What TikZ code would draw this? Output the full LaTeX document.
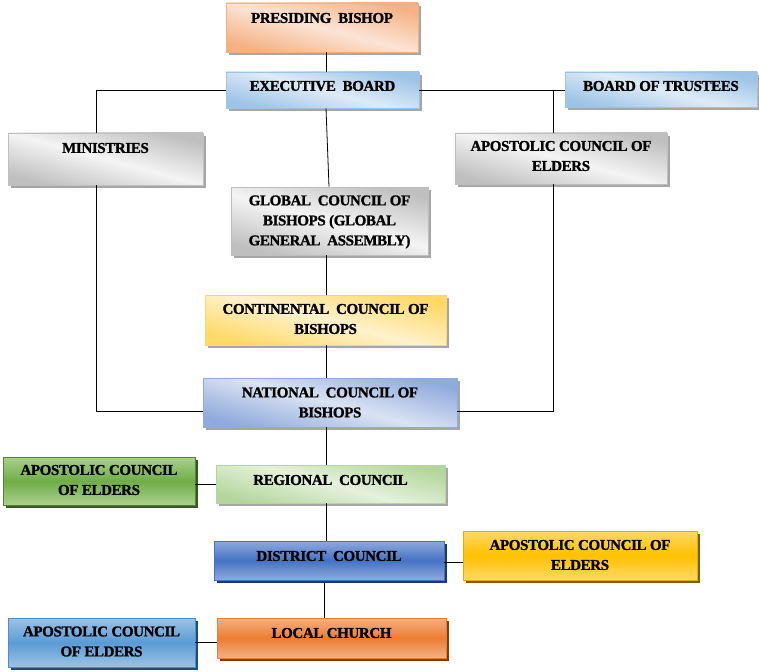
\documentclass[tikz,border=0pt]{standalone}
\usepackage{fontspec}
\setmainfont{Liberation Serif}[BoldFeatures={FakeBold=1.2, LetterSpace=-2.5}]
\usetikzlibrary{shadows}
\definecolor{orD}{HTML}{F4B183}\definecolor{orL}{HTML}{FCE4D6}
\definecolor{blD}{HTML}{9DC3E6}\definecolor{blL}{HTML}{DEEBF7}
\definecolor{grD}{HTML}{C8C8C8}\definecolor{grL}{HTML}{F4F4F4}\definecolor{grB}{HTML}{BFBFBF}
\definecolor{yeD}{HTML}{FFD966}\definecolor{yeL}{HTML}{FFF2CC}
\definecolor{naD}{HTML}{8FAADC}\definecolor{naL}{HTML}{DAE3F3}
\definecolor{rgD}{HTML}{B4D69C}\definecolor{rgL}{HTML}{E5F1DC}
\definecolor{gnM}{HTML}{70AD47}\definecolor{gnE}{HTML}{A9D18E}\definecolor{gnB}{HTML}{548235}\definecolor{gnS}{HTML}{385723}
\definecolor{dsM}{HTML}{4472C4}\definecolor{dsE}{HTML}{8FAADC}\definecolor{dsS}{HTML}{203864}
\definecolor{goM}{HTML}{FFC000}\definecolor{goE}{HTML}{FFD966}\definecolor{goB}{HTML}{E6AC00}\definecolor{goS}{HTML}{7F6000}
\definecolor{bbM}{HTML}{5B9BD5}\definecolor{bbE}{HTML}{9DC3E6}\definecolor{bbB}{HTML}{4F8CC9}\definecolor{bbS}{HTML}{1F4E79}
\definecolor{lcM}{HTML}{ED7D31}\definecolor{lcE}{HTML}{F4B183}\definecolor{lcS}{HTML}{843C0C}
\definecolor{shG}{HTML}{A6A6A6}
\tikzset{
  orgbox/.style={rectangle, inner sep=0pt, line width=0.8pt},
  lightbox/.style 2 args={orgbox, draw=#1, top color=#1, bottom color=#1, middle color=#2, shading angle=-15,
     drop shadow={shadow xshift=3pt, shadow yshift=-3pt, opacity=1, fill=shG}},
  solidbox/.style n args={4}{orgbox, draw=#3, top color=#2, bottom color=#2, middle color=#1,
     drop shadow={shadow xshift=3pt, shadow yshift=-3pt, opacity=1, fill=#4}},
  lbl/.style={font=\bfseries\fontsize{15}{20}\selectfont, align=center, inner sep=0pt},
  conn/.style={draw=black, line width=0.8pt}
}
\begin{document}
\begin{tikzpicture}[x=1pt,y=-1pt]
\useasboundingbox (0,0) rectangle (759,671);
% boxes
\node[lightbox={orD}{orL}, minimum width=192pt, minimum height=49pt] (pres) at (322,27.5) {};
\node[lbl] (tpres) at (322,18) {PRESIDING\ \ BISHOP};
\node[lightbox={blD}{blL}, minimum width=193pt, minimum height=36pt] (exec) at (322.5,90) {};
\node[lbl] (texec) at (322.5,86) {EXECUTIVE\ \ BOARD};
\node[lightbox={blD}{blL}, minimum width=192pt, minimum height=35pt] (bot) at (661,89.5) {};
\node[lbl] (tbot) at (661,86) {BOARD OF TRUSTEES};
\node[lightbox={grB}{grL}, minimum width=195pt, minimum height=52pt] (min) at (105.5,159) {};
\node[lbl] (tmin) at (105.5,148) {MINISTRIES};
\node[lightbox={grB}{grL}, minimum width=212pt, minimum height=51pt] (acg) at (561,158.5) {};
\node[lbl] (tacg) at (561,156) {APOSTOLIC COUNCIL OF\\ELDERS};
\node[lightbox={grB}{grL}, minimum width=197pt, minimum height=68pt] (glob) at (329.5,221) {};
\node[lbl] (tglob) at (329.5,222) {GLOBAL\ \ COUNCIL OF\\BISHOPS (GLOBAL\\GENERAL\ \ ASSEMBLY)};
\node[lightbox={yeD}{yeL}, minimum width=241pt, minimum height=50pt] (cont) at (325.5,320) {};
\node[lbl] (tcont) at (325.5,319) {CONTINENTAL\ \ COUNCIL OF\\BISHOPS};
\node[lightbox={naD}{naL}, minimum width=254pt, minimum height=49pt] (nat) at (330,402.5) {};
\node[lbl] (tnat) at (330,402.5) {NATIONAL\ \ COUNCIL OF\\BISHOPS};
\node[solidbox={gnM}{gnE}{gnB}{gnS}, minimum width=192pt, minimum height=48pt] (acgn) at (99,481) {};
\node[lbl] (tacgn) at (99,480) {APOSTOLIC COUNCIL\\OF ELDERS};
\node[lightbox={rgD}{rgL}, minimum width=229pt, minimum height=38pt] (reg) at (330.5,484) {};
\node[lbl] (treg) at (330.5,480) {REGIONAL\ \ COUNCIL};
\node[solidbox={dsM}{dsE}{dsM}{dsS}, minimum width=230pt, minimum height=39pt] (dist) at (329,560.5) {};
\node[lbl] (tdist) at (329,556) {DISTRICT\ \ COUNCIL};
\node[solidbox={goM}{goE}{goB}{goS}, minimum width=234pt, minimum height=49pt] (acgo) at (580,555.5) {};
\node[lbl] (tacgo) at (580,555) {APOSTOLIC COUNCIL OF\\ELDERS};
\node[solidbox={bbM}{bbE}{bbB}{bbS}, minimum width=187pt, minimum height=49pt] (acbl) at (101.5,642.5) {};
\node[lbl] (tacbl) at (101.5,641.5) {APOSTOLIC COUNCIL\\OF ELDERS};
\node[solidbox={lcM}{lcE}{lcM}{lcS}, minimum width=229pt, minimum height=40pt] (loc) at (331.5,638) {};
\node[lbl] (tloc) at (331.5,633) {LOCAL CHURCH};
% helper coordinates
\coordinate (sp) at (326,0);
\coordinate (lx) at (96,0);
\coordinate (rx) at (553,0);
\coordinate (dx) at (324,0);
% connectors
\draw[conn] (sp |- pres.south) -- (sp |- exec.north);
\draw[conn] (sp |- exec.south) -- ([xshift=-0.5pt]glob.north);
\draw[conn] (sp |- glob.south) -- (sp |- cont.north);
\draw[conn] (sp |- cont.south) -- (sp |- nat.north);
\draw[conn] (sp |- nat.south) -- (sp |- reg.north);
\draw[conn] (sp |- reg.south) -- (sp |- dist.north);
\draw[conn] ([yshift=-3pt]dx |- dist.south) -- (dx |- loc.north);
\draw[conn] (exec.west) -| (lx |- min.north);
\draw[conn] (lx |- min.south) |- ([yshift=-8.5pt]nat.west);
\draw[conn] (exec.east) -- (bot.west |- exec.east);
\draw[conn] (rx |- exec.east) -- (rx |- acg.north);
\draw[conn] (rx |- acg.south) |- ([yshift=-8.5pt]nat.east);
\draw[conn] (reg.west) -- (acgn.east |- reg.west);
\draw[conn] ([yshift=-1.5pt]dist.east) -- ([yshift=-1.5pt]acgo.west |- dist.east);
\draw[conn] (acbl.east) -- (loc.west |- acbl.east);
\end{tikzpicture}
\end{document}
